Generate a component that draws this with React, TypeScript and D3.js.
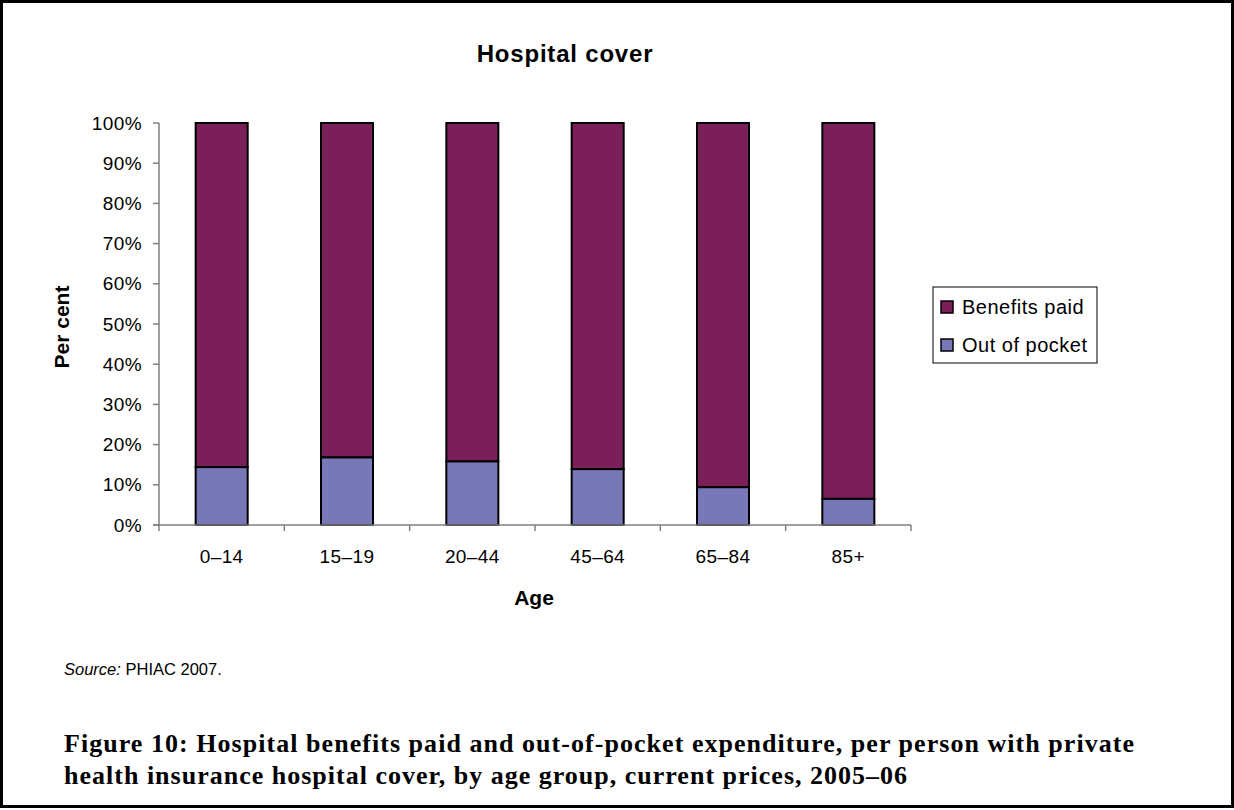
import * as d3 from 'd3';

const ageGroups = ['0–14', '15–19', '20–44', '45–64', '65–84', '85+'];
const outOfPocket = [14.4, 16.8, 15.8, 13.9, 9.4, 6.5];
const benefitsPaid = outOfPocket.map((v) => 100 - v);
const yTicks = [0, 10, 20, 30, 40, 50, 60, 70, 80, 90, 100];

const seriesNames = ['Benefits paid', 'Out of pocket'];
const seriesColors = ['#7b1f5a', '#7878b8'];

const W = 1234;
const H = 810;
const plot = { left: 159, right: 911, top: 123, bottom: 525 };

export default function App() {
  const x = d3
    .scaleBand<string>()
    .domain(ageGroups)
    .range([plot.left, plot.right])
    .paddingInner(0.585)
    .paddingOuter(0.2925);
  const y = d3.scaleLinear().domain([0, 100]).range([plot.bottom, plot.top]);
  const step = x.step();
  const boundaries = d3.range(ageGroups.length + 1).map((i) => plot.left + i * step);

  const arial = 'Arial, "Liberation Sans", sans-serif';

  return (
    <svg
      width={W}
      height={H}
      style={{ position: 'absolute', left: 0, top: 0, background: '#fff' }}
      fontFamily={arial}
    >
      {/* frame */}
      <rect x={1.5} y={1.5} width={W - 3} height={H - 5} fill="none" stroke="#000" strokeWidth={3} />

      <text x={565} y={62} textAnchor="middle" fontSize={24} fontWeight="bold" letterSpacing={0.8}>
        Hospital cover
      </text>

      {/* bars: benefits paid stacked on top of out of pocket */}
      {ageGroups.map((g, i) => {
        const bx = x(g)!;
        const bw = x.bandwidth();
        const base = outOfPocket[i];
        return (
          <g key={g}>
            <rect
              x={bx}
              y={y(base + benefitsPaid[i])}
              width={bw}
              height={y(base) - y(base + benefitsPaid[i])}
              fill={seriesColors[0]}
              stroke="#000"
              strokeWidth={2}
            />
            <rect
              x={bx}
              y={y(base)}
              width={bw}
              height={y(0) - y(base)}
              fill={seriesColors[1]}
              stroke="#000"
              strokeWidth={2}
            />
          </g>
        );
      })}

      {/* y axis */}
      <line x1={plot.left} x2={plot.left} y1={plot.top} y2={plot.bottom} stroke="#808080" strokeWidth={1.5} />
      {yTicks.map((t) => (
        <g key={t}>
          <line x1={plot.left - 6} x2={plot.left} y1={y(t)} y2={y(t)} stroke="#808080" strokeWidth={1.5} />
          <text x={plot.left - 17} y={y(t)} dy="0.35em" textAnchor="end" fontSize={19} letterSpacing={0.4}>
            {t}%
          </text>
        </g>
      ))}

      {/* x axis */}
      <line x1={plot.left - 6} x2={plot.right} y1={plot.bottom} y2={plot.bottom} stroke="#808080" strokeWidth={1.5} />
      {boundaries.map((b, i) => (
        <line key={i} x1={b} x2={b} y1={plot.bottom} y2={plot.bottom + 6} stroke="#808080" strokeWidth={1.5} />
      ))}
      {ageGroups.map((g) => (
        <text key={g} x={x(g)! + x.bandwidth() / 2} y={563} textAnchor="middle" fontSize={19} letterSpacing={0.4}>
          {g}
        </text>
      ))}

      <text x={534} y={605} textAnchor="middle" fontSize={21} fontWeight="bold">
        Age
      </text>
      <text transform="translate(69,327) rotate(-90)" textAnchor="middle" fontSize={21} fontWeight="bold">
        Per cent
      </text>

      {/* legend */}
      <rect x={933} y={287} width={164} height={76} fill="#fff" stroke="#000" strokeWidth={1} />
      {seriesNames.map((s, i) => (
        <g key={s} transform={`translate(941, ${301 + i * 38})`}>
          <rect x={0} y={0} width={12} height={12} fill={seriesColors[i]} stroke="#000" strokeWidth={1.5} />
          <text x={21} y={13} fontSize={20} letterSpacing={0.5}>
            {s}
          </text>
        </g>
      ))}

      <text x={64} y={675} fontSize={16.5}>
        <tspan fontStyle="italic">Source:</tspan> PHIAC 2007.
      </text>

      <g fontFamily='"Liberation Serif", "Times New Roman", serif' fontWeight="bold" fontSize={26}>
        <text x={64} y={752} textLength={1070} lengthAdjust="spacing">
          Figure 10: Hospital benefits paid and out-of-pocket expenditure, per person with private
        </text>
        <text x={64} y={784} textLength={843} lengthAdjust="spacing">
          health insurance hospital cover, by age group, current prices, 2005–06
        </text>
      </g>
    </svg>
  );
}
